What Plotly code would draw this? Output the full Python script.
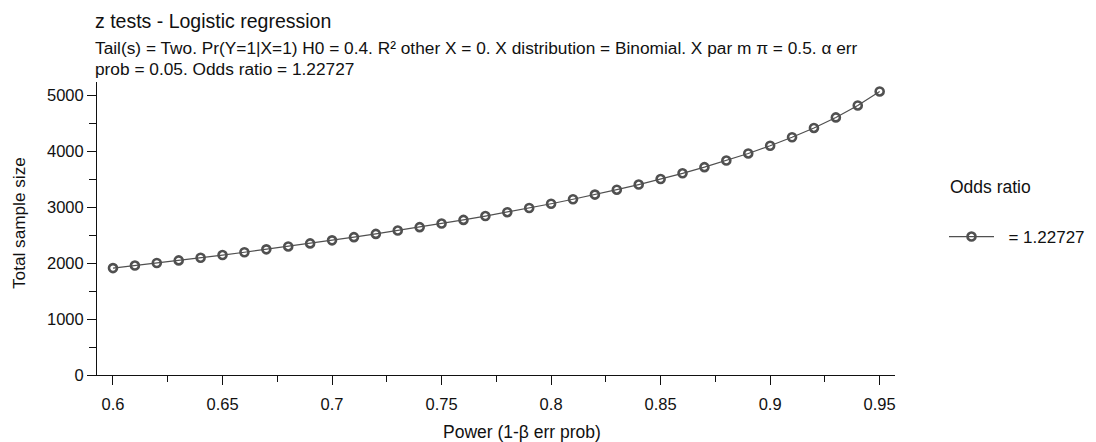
import plotly.graph_objects as go

# Data
power = [0.60, 0.61, 0.62, 0.63, 0.64, 0.65, 0.66, 0.67, 0.68, 0.69,
         0.70, 0.71, 0.72, 0.73, 0.74, 0.75, 0.76, 0.77, 0.78, 0.79,
         0.80, 0.81, 0.82, 0.83, 0.84, 0.85, 0.86, 0.87, 0.88, 0.89,
         0.90, 0.91, 0.92, 0.93, 0.94, 0.95]
sample_size = [1911, 1956, 2002, 2048, 2096, 2144, 2194, 2246, 2298, 2352,
               2407, 2464, 2522, 2582, 2643, 2707, 2772, 2841, 2910, 2985,
               3061, 3141, 3224, 3312, 3404, 3502, 3605, 3715, 3833, 3960,
               4098, 4249, 4416, 4604, 4818, 5068]
x_tick_vals = [0.6, 0.65, 0.7, 0.75, 0.8, 0.85, 0.9, 0.95]
x_tick_text = ["0.6", "0.65", "0.7", "0.75", "0.8", "0.85", "0.9", "0.95"]
x_minor_vals = [0.625, 0.675, 0.725, 0.775, 0.825, 0.875, 0.925]
y_tick_vals = [0, 1000, 2000, 3000, 4000, 5000]
y_minor_vals = [500, 1500, 2500, 3500, 4500]
series_name = "= 1.22727"
legend_title = "Odds ratio"
title = "z tests - Logistic regression"
subtitle_1 = "Tail(s) = Two. Pr(Y=1|X=1) H0 = 0.4. R² other X = 0. X distribution = Binomial. X par m π = 0.5. α err"
subtitle_2 = "prob = 0.05. Odds ratio = 1.22727"
x_title = "Power (1-β err prob)"
y_title = "Total sample size"

FONT = "Liberation Sans, Arial, sans-serif"
INK = "#111111"
OFF = 8  # page body margin
W, H = 1096 - OFF, 442 - OFF
L, T = 97 - OFF, 82 - OFF
R = W - (895 - OFF)
B = H - (375 - OFF)
PW, PH = W - L - R, H - T - B


def px(xp):
    return (xp - OFF - L) / PW


def py(yp):
    return (H - B - (yp - OFF)) / PH


fig = go.Figure()
fig.add_trace(go.Scatter(
    x=power, y=sample_size, mode="lines+markers",
    name="\u00a0\u00a0" + series_name,
    line=dict(color="#505050", width=1.2),
    marker=dict(symbol="circle-open", size=8, color="#505050",
                line=dict(width=2.6, color="#505050")),
))

fig.update_layout(
    width=W, height=H,
    margin=dict(l=L, r=R, t=T, b=B, pad=0, autoexpand=False),
    paper_bgcolor="white", plot_bgcolor="white",
    font=dict(family=FONT, size=17, color=INK),
    showlegend=True,
    legend=dict(x=px(944), xanchor="left", y=py(237), yanchor="middle",
                font=dict(size=17, family=FONT, color=INK),
                bgcolor="rgba(0,0,0,0)", itemwidth=45),
    xaxis=dict(
        range=[0.5927, 0.957], showgrid=False, zeroline=False,
        showline=True, linecolor=INK, linewidth=1,
        tickvals=x_tick_vals, ticktext=x_tick_text,
        ticks="outside", ticklen=9, tickcolor=INK,
        ticklabelstandoff=5,
        minor=dict(tickvals=x_minor_vals, ticks="outside", ticklen=6,
                   tickcolor=INK),
        tickfont=dict(size=16.5, family=FONT, color=INK),
    ),
    yaxis=dict(
        range=[0, 5237], showgrid=False, zeroline=False,
        showline=True, linecolor=INK, linewidth=1,
        tickvals=y_tick_vals,
        ticks="outside", ticklen=9, tickcolor=INK,
        minor=dict(tickvals=y_minor_vals, ticks="outside", ticklen=7,
                   tickcolor=INK),
        tickfont=dict(size=16.5, family=FONT, color=INK),
    ),
)

ann = [
    (title, 93, 21, 19.5),
    (subtitle_1, 93, 48, 17.3),
    (subtitle_2, 93, 69, 17.3),
    (legend_title, 948, 187, 17.5),
]
for text, xx, yy, size in ann:
    fig.add_annotation(xref="paper", yref="paper", xanchor="left",
                       yanchor="middle", showarrow=False,
                       font=dict(family=FONT, color=INK, size=size),
                       text=text, x=px(xx), y=py(yy))

fig.add_annotation(xref="paper", yref="paper", x=px(522), y=py(432),
                   xanchor="center", yanchor="middle", showarrow=False,
                   text=x_title, font=dict(family=FONT, size=17.5, color=INK))
fig.add_annotation(xref="paper", yref="paper", x=px(18.5), y=py(223.5),
                   xanchor="center", yanchor="middle", showarrow=False,
                   textangle=-90,
                   text=y_title, font=dict(family=FONT, size=17.2, color=INK))

fig.write_html("out.html")
